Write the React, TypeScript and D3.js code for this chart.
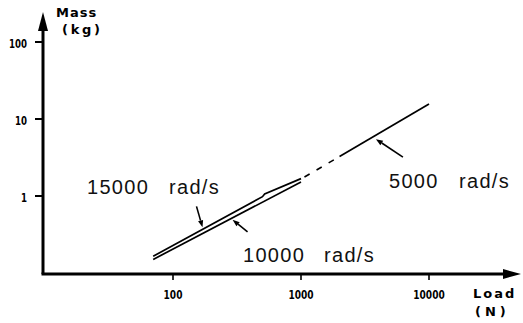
import * as d3 from 'd3';

// load (N) vs mass (kg)
const rpm15000: [number, number][] = [[70, 0.165], [500, 0.98], [520, 1.06], [1000, 1.68]];
const rpm10000: [number, number][] = [[70, 0.15], [1000, 1.52]];
const rpm5000Dashed: [number, number][] = [[1000, 1.66], [2000, 3.25]];
const rpm5000: [number, number][] = [[2000, 3.25], [10000, 15.7]];

const xTicks = [100, 1000, 10000];
const yTicks = [1, 10, 100];

const W = 523;
const H = 323;
const X0 = 43;
const Y0 = 274;

const x = d3.scaleLog().domain([100, 10000]).range([173, 429]);
const y = d3.scaleLog().domain([1, 100]).range([196, 42]);

const line = d3.line<[number, number]>().x(d => x(d[0])).y(d => y(d[1]));

// point on a series at a given load (log interpolation)
function at(series: [number, number][], load: number): [number, number] {
  for (let i = 0; i < series.length - 1; i++) {
    const [a, b] = [series[i], series[i + 1]];
    if (load >= a[0] && load <= b[0]) {
      const t = (Math.log10(load) - Math.log10(a[0])) / (Math.log10(b[0]) - Math.log10(a[0]));
      const v = Math.log10(a[1]) + t * (Math.log10(b[1]) - Math.log10(a[1]));
      return [x(load), y(10 ** v)];
    }
  }
  return [x(load), y(series[0][1])];
}

const TICK_FONT = '"DejaVu Sans Condensed", "DejaVu Sans", sans-serif';
const TITLE_FONT = '"DejaVu Sans", sans-serif';
const LABEL_FONT = '"Liberation Sans", Arial, sans-serif';

function Arrow({ tip, dx, dy }: { tip: [number, number]; dx: number; dy: number }) {
  const [tx, ty] = tip;
  const sx = tx + dx;
  const sy = ty + dy;
  const len = Math.hypot(dx, dy);
  const ux = -dx / len;
  const uy = -dy / len;
  const hl = 7;
  const hw = 2.6;
  const bx = tx - ux * hl;
  const by = ty - uy * hl;
  const p = `${tx},${ty} ${bx - uy * hw},${by + ux * hw} ${bx + uy * hw},${by - ux * hw}`;
  return (
    <g>
      <line x1={sx} y1={sy} x2={bx} y2={by} stroke="#000" strokeWidth={1.6} />
      <polygon points={p} fill="#000" />
    </g>
  );
}

export default function App() {
  const tip15 = at(rpm15000, 170);
  const tip10 = at(rpm10000, 292);
  const tip5 = at(rpm5000, 3850);

  return (
    <svg width={W} height={H} style={{ position: 'absolute', left: 0, top: 0, background: '#fff' }}>
      <rect width={W} height={H} fill="#fff" />

      {/* axes */}
      <line x1={X0} y1={Y0} x2={X0} y2={28} stroke="#000" strokeWidth={3} />
      <polygon points={`${X0},12 ${X0 - 5},31 ${X0 + 5},31`} fill="#000" />
      <line x1={X0 - 1.5} y1={Y0} x2={506} y2={Y0} stroke="#000" strokeWidth={3} />
      <polygon points={`521,${Y0} 503,${Y0 - 5} 503,${Y0 + 5}`} fill="#000" />

      {yTicks.map(t => (
        <g key={t}>
          <line x1={X0 - 8} x2={X0} y1={y(t)} y2={y(t)} stroke="#000" strokeWidth={2} />
          <text x={27} y={y(t) + 6} textAnchor="end" fontFamily={TICK_FONT} fontWeight="bold" fontSize={12.5}
            textLength={String(t).length * 6} lengthAdjust="spacingAndGlyphs">{t}</text>
        </g>
      ))}
      {xTicks.map(t => (
        <g key={t}>
          <line x1={x(t)} x2={x(t)} y1={Y0} y2={Y0 + 6} stroke="#000" strokeWidth={1.6} />
          <text x={x(t)} y={299} textAnchor="middle" fontFamily={TICK_FONT} fontWeight="bold" fontSize={12.5}
            textLength={String(t).length * 6.3} lengthAdjust="spacingAndGlyphs">{t}</text>
        </g>
      ))}

      <text x={56} y={17} fontFamily={TITLE_FONT} fontWeight="bold" fontSize={13} letterSpacing={1}>Mass</text>
      <text x={62} y={34} fontFamily={TITLE_FONT} fontWeight="bold" fontSize={13} letterSpacing={2.7}>(kg)</text>
      <text x={473} y={298} fontFamily={TITLE_FONT} fontWeight="bold" fontSize={13} letterSpacing={2}>Load</text>
      <text x={475} y={316} fontFamily={TITLE_FONT} fontWeight="bold" fontSize={13} letterSpacing={4}>(N)</text>

      {/* series */}
      <path d={line(rpm15000) ?? ''} fill="none" stroke="#000" strokeWidth={1.7} />
      <path d={line(rpm10000) ?? ''} fill="none" stroke="#000" strokeWidth={1.7} />
      <path d={line(rpm5000Dashed) ?? ''} fill="none" stroke="#000" strokeWidth={1.6} strokeDasharray="6 8" strokeDashoffset={-4} />
      <path d={line(rpm5000) ?? ''} fill="none" stroke="#000" strokeWidth={1.7} />

      {/* annotations */}
      <Arrow tip={[tip15[0], tip15[1] - 2]} dx={-6} dy={-21} />
      <Arrow tip={[tip10[0], tip10[1] + 2]} dx={15} dy={12} />
      <Arrow tip={[tip5[0], tip5[1] + 4]} dx={27} dy={18} />

      <g fontFamily={LABEL_FONT} fontSize={20} letterSpacing={1.3} fill="#111">
        <text x={87} y={194}>15000</text>
        <text x={169} y={194}>rad/s</text>
        <text x={243} y={262}>10000</text>
        <text x={324} y={262}>rad/s</text>
        <text x={389} y={188}>5000</text>
        <text x={459} y={188}>rad/s</text>
      </g>
    </svg>
  );
}
